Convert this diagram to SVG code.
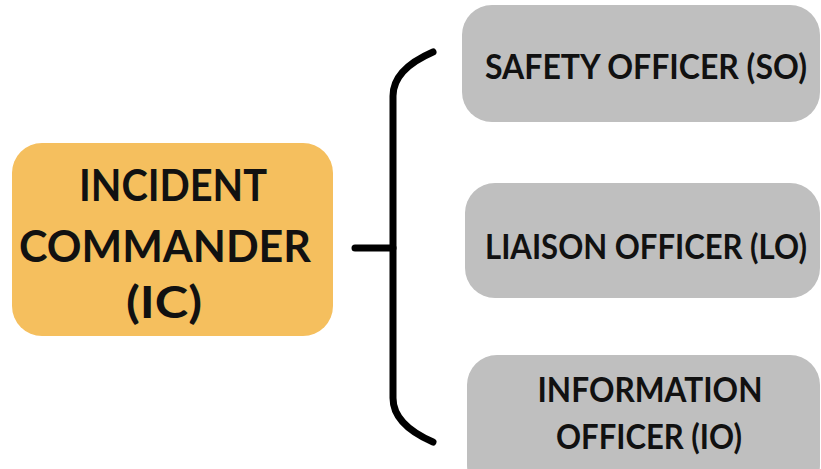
<svg xmlns="http://www.w3.org/2000/svg" width="821" height="469" viewBox="0 0 821 469">
<style>
.t{font-family:Lato,"Open Sans","Liberation Sans",sans-serif;font-weight:bold;fill:#111;text-anchor:middle}
.big{font-size:44px}
.sm{font-size:35px}
.gray{fill:#BFBFBF}
.conn{fill:none;stroke:#000;stroke-width:7;stroke-linecap:round;stroke-linejoin:round}
</style>
<rect width="821" height="469" fill="#fff"/>
<g id="ic">
<rect x="12" y="143" width="321" height="193" rx="30" fill="#F5BF5E"/>
<text class="t big" x="173" y="201" textLength="188" lengthAdjust="spacingAndGlyphs">INCIDENT</text>
<text class="t big" x="165" y="262" textLength="292" lengthAdjust="spacingAndGlyphs">COMMANDER</text>
<text class="t big" x="164" y="318" textLength="76" lengthAdjust="spacingAndGlyphs">(IC)</text>
</g>
<g id="connectors">
<path class="conn" d="M433 52 C410 62 393 76 393 96 L393 398 C393 418 410 432 433 442"/>
<path class="conn" d="M355 248 L393 248"/>
</g>
<g id="so">
<rect class="gray" x="462" y="5" width="358" height="117" rx="30"/>
<text class="t sm" x="646" y="79" textLength="322" lengthAdjust="spacingAndGlyphs">SAFETY OFFICER (SO)</text>
</g>
<g id="lo">
<rect class="gray" x="465" y="183" width="355" height="115" rx="30"/>
<text class="t sm" x="646" y="259" textLength="322" lengthAdjust="spacingAndGlyphs">LIAISON OFFICER (LO)</text>
</g>
<g id="io">
<rect class="gray" x="467" y="355" width="353" height="140" rx="30"/>
<text class="t sm" x="650" y="402" textLength="225" lengthAdjust="spacingAndGlyphs">INFORMATION</text>
<text class="t sm" x="649" y="449" textLength="186" lengthAdjust="spacingAndGlyphs">OFFICER (IO)</text>
</g>
</svg>
